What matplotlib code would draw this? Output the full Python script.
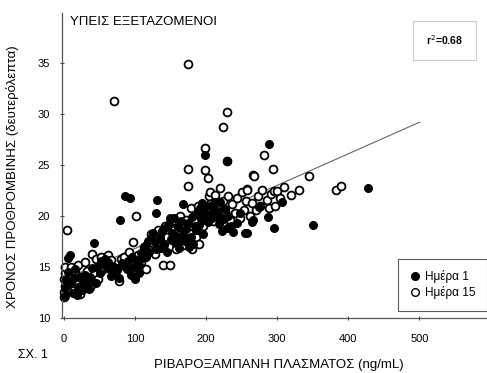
import matplotlib
matplotlib.use('Agg')
import matplotlib.pyplot as plt
from matplotlib.lines import Line2D

plt.rcParams['font.family'] = ['Liberation Sans', 'DejaVu Sans']

# Day 1 (filled circles): rivaroxaban ng/mL vs prothrombin time s
day1_x = [1, 2, 3, 5, 6, 8, 10, 12, 15, 18, 20, 22, 25, 28, 30, 32, 35, 38, 40, 42,
          45, 48, 50, 55, 58, 60, 62, 65, 68, 70, 72, 75, 78, 79, 82, 86, 88, 90, 93, 94,
          96, 98, 100, 102, 105, 108, 110, 112, 115, 118, 120, 122, 125, 128, 129, 130, 131, 135, 138, 140,
          142, 145, 148, 149, 150, 152, 155, 158, 160, 162, 165, 167, 168, 170, 172, 175, 176, 178, 180, 182,
          185, 188, 190, 191, 192, 194, 195, 198, 199, 200, 202, 205, 208, 210, 212, 214, 215, 218, 220, 222,
          225, 229, 229, 230, 235, 238, 243, 247, 254, 257, 265, 266, 275, 287, 289, 296, 306, 350, 427,
          4, 14, 26, 36, 52, 66, 84, 106, 116, 136, 156, 164, 184, 196, 206, 216, 226]
day1_y = [12.2, 13.0, 13.8, 14.5, 15.9, 16.2, 13.4, 12.5, 14.8, 12.3, 13.1, 14.0, 12.8, 13.5, 14.2, 13.0, 12.9, 13.6, 14.9, 17.4,
          13.4, 15.1, 14.4, 15.3, 15.8, 14.9, 15.5, 15.2, 14.6, 15.0, 14.3, 14.7, 13.9, 19.6, 15.4, 22.0, 14.8, 15.6, 21.8, 14.2,
          16.0, 15.0, 13.8, 15.7, 14.4, 16.4, 15.9, 16.8, 17.2, 17.6, 16.5, 17.9, 18.3, 17.5, 20.3, 16.8, 21.6, 17.9, 18.5, 17.2,
          18.8, 16.5, 19.2, 19.8, 17.8, 18.3, 19.8, 17.4, 18.9, 16.9, 19.5, 21.2, 18.2, 17.6, 18.7, 19.3, 17.0, 18.0, 19.9, 17.3,
          18.6, 20.4, 19.1, 20.1, 20.8, 21.3, 19.6, 21.0, 26.0, 20.2, 19.4, 21.0, 19.8, 20.6, 21.4, 20.6, 20.3, 19.2, 21.4, 18.5,
          19.7, 25.4, 18.8, 20.0, 19.0, 18.4, 19.3, 20.3, 18.3, 18.3, 19.4, 19.6, 20.9, 19.9, 27.1, 18.8, 21.4, 19.1, 22.8,
          13.5, 13.9, 13.3, 14.0, 15.6, 14.1, 15.1, 15.2, 16.0, 16.9, 18.1, 17.7, 19.0, 18.2, 20.1, 19.9, 20.7]

# Day 15 (open circles)
day15_x = [0, 0, 1, 0, 2, 1, 4, 5, 8, 10, 12, 14, 16, 18, 20, 22, 25, 28, 30, 33,
           36, 39, 42, 45, 48, 52, 55, 58, 62, 66, 70, 72, 77, 80, 85, 88, 91, 97, 101, 104,
           108, 112, 115, 118, 122, 125, 128, 132, 136, 139, 142, 145, 148, 149, 152, 155, 158, 160, 163, 166,
           168, 171, 174, 174, 174, 176, 178, 180, 183, 186, 188, 190, 193, 196, 198, 199, 200, 202, 204, 205,
           206, 209, 212, 215, 218, 220, 223, 224, 227, 229, 229, 231, 234, 237, 240, 244, 247, 250, 253, 256,
           257, 258, 261, 264, 266, 267, 270, 273, 276, 279, 282, 285, 288, 291, 294, 296, 297, 300, 304, 310,
           320, 330, 345, 382, 390]
day15_y = [12.1, 12.6, 13.2, 13.8, 14.4, 15.0, 18.6, 13.0, 14.2, 15.0, 13.6, 12.8, 14.6, 13.3, 15.2, 12.4, 14.0, 13.2, 15.5, 14.6,
           13.1, 16.3, 14.3, 15.8, 13.8, 16.0, 14.8, 15.5, 16.2, 15.7, 31.3, 14.9, 13.6, 15.8, 16.0, 15.2, 16.5, 17.5, 20.0, 16.2,
           15.5, 17.0, 14.8, 16.9, 18.2, 17.4, 16.3, 18.6, 17.8, 15.2, 19.0, 18.0, 17.0, 15.2, 19.5, 18.6, 16.8, 17.9, 20.0, 18.8,
           17.2, 19.6, 23.0, 24.6, 34.9, 18.3, 20.8, 16.8, 19.5, 18.0, 21.0, 17.3, 20.3, 19.0, 26.7, 24.5, 20.5, 23.7, 22.0, 22.4,
           21.2, 19.5, 22.1, 21.0, 20.0, 22.8, 28.7, 21.5, 20.5, 25.4, 30.2, 22.0, 19.6, 21.2, 20.3, 21.8, 19.8, 22.4, 20.6, 21.5,
           22.7, 22.6, 20.0, 21.3, 24.0, 23.9, 20.6, 22.0, 21.0, 22.6, 26.0, 21.6, 20.8, 22.2, 24.6, 22.5, 21.0, 22.5, 21.8, 22.9,
           22.1, 22.6, 23.9, 22.6, 23.0]

# regression line
fit_x = [0, 500]
fit_y = [13.75, 29.2]

x_ticks = [0, 100, 200, 300, 400, 500]
y_ticks = [10, 15, 20, 25, 30, 35]

fig = plt.figure(figsize=(4.87, 3.73), dpi=100, facecolor='white')
ax = fig.add_axes([0.127, 0.147, 0.873, 0.818])

ax.plot(fit_x, fit_y, color='#666666', lw=0.8, zorder=1)
ax.scatter(day15_x, day15_y, s=32, facecolor='white', edgecolor='black', linewidth=1.3, zorder=2, clip_on=False)
ax.scatter(day1_x, day1_y, s=32, facecolor='black', edgecolor='black', linewidth=0.8, zorder=3, clip_on=False)

ax.set_xlim(-3, 595)
ax.set_ylim(10, 39.9)
ax.set_xticks(x_ticks)
ax.set_yticks(y_ticks)
ax.tick_params(axis='both', labelsize=8, length=3, width=0.8, direction='inout', color='#444444')
ax.tick_params(axis='x', pad=10)
ax.tick_params(axis='y', pad=7)
for s in ['top', 'right']:
    ax.spines[s].set_visible(False)
for s in ['left', 'bottom']:
    ax.spines[s].set_color('#555555')
    ax.spines[s].set_linewidth(0.9)

ax.text(0.02, 0.97, 'ΥΠΕΙΣ ΕΞΕΤΑΖΟΜΕΝΟΙ', transform=ax.transAxes, fontsize=9.5, va='center', ha='left')
ax.text(0.90, 0.91, 'r$^2$=0.68', transform=ax.transAxes, fontsize=7.5, fontweight='bold',
        va='center', ha='center',
        bbox=dict(boxstyle='square,pad=1.2', facecolor='white', edgecolor='#cccccc', linewidth=0.8))

handles = [Line2D([], [], marker='o', ls='none', color='black', markersize=5.5, label='Ημέρα 1'),
           Line2D([], [], marker='o', ls='none', markerfacecolor='white', markeredgecolor='black',
                  markersize=5.5, label='Ημέρα 15')]
leg = ax.legend(handles=handles, loc='lower right', bbox_to_anchor=(1.0, 0.025), fontsize=8.5,
                frameon=True, fancybox=False, edgecolor='#333333', handletextpad=0.3,
                borderpad=1.0, handlelength=1.0, labelspacing=0.2, borderaxespad=0)
leg.get_frame().set_linewidth(0.8)

fig.text(0.025, 0.525, 'ΧΡΟΝΟΣ ΠΡΟΘΡΟΜΒΙΝΗΣ (δευτερόλεπτα)', rotation=90, fontsize=9.5,
         ha='center', va='center')
fig.text(0.573, 0.021, 'ΡΙΒΑΡΟΞΑΜΠΑΝΗ ΠΛΑΣΜΑΤΟΣ (ng/mL)', fontsize=9.5, ha='center', va='center')
fig.text(0.037, 0.048, 'ΣΧ. 1', fontsize=9, ha='left', va='center')

fig.savefig('out.png', dpi=100)
